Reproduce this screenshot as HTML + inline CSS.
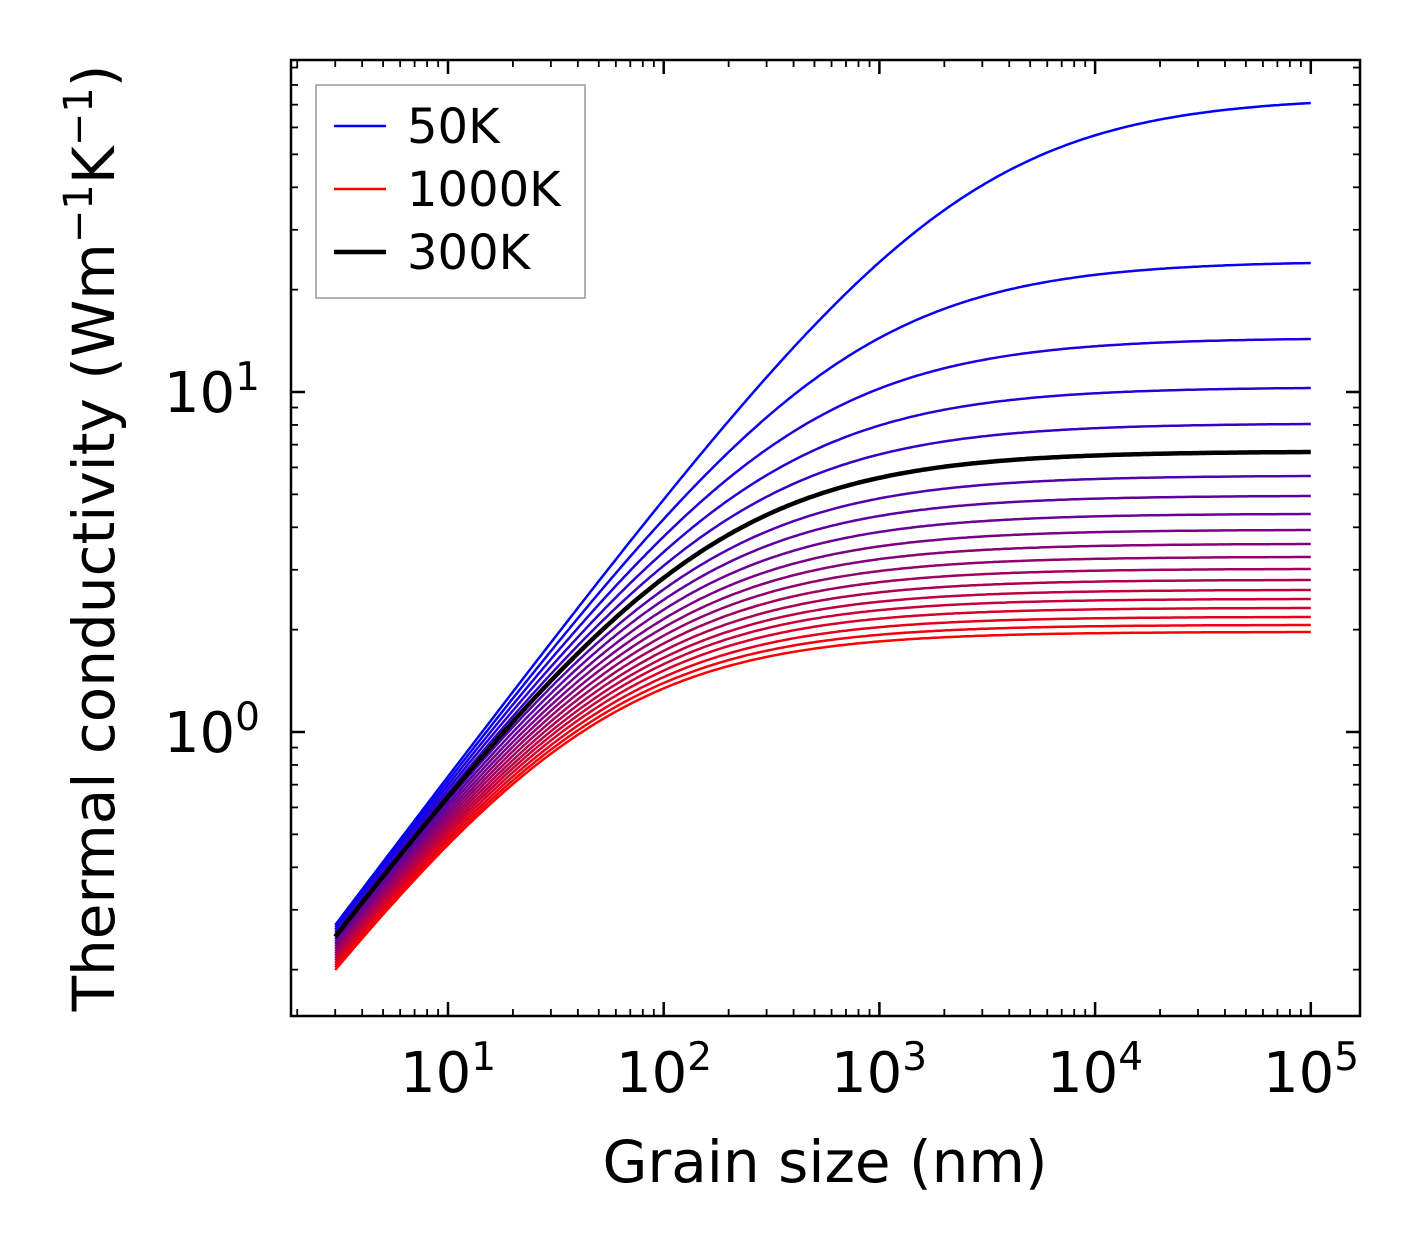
<!DOCTYPE html>
<html><head><meta charset="utf-8">
<style>
html,body{margin:0;padding:0;background:#fff;}
svg{display:block;font-family:"DejaVu Sans","Liberation Sans",sans-serif;}
</style></head>
<body>
<svg id="s" width="1421" height="1254" viewBox="0 0 1421 1254" xmlns="http://www.w3.org/2000/svg">
<defs><clipPath id="c"><rect x="291" y="60" width="1069" height="956"/></clipPath></defs>
<g id="curves" clip-path="url(#c)"></g>
<rect x="291" y="60" width="1069" height="956" fill="none" stroke="#000" stroke-width="2.5"/>
<g id="ticks" stroke="#000"></g>
<g font-size="56" fill="#000">
<text x="448" y="1092" text-anchor="middle">10<tspan dy="-22" font-size="39">1</tspan></text>
<text x="664" y="1092" text-anchor="middle">10<tspan dy="-22" font-size="39">2</tspan></text>
<text x="879" y="1092" text-anchor="middle">10<tspan dy="-22" font-size="39">3</tspan></text>
<text x="1095" y="1092" text-anchor="middle">10<tspan dy="-22" font-size="39">4</tspan></text>
<text x="1311" y="1092" text-anchor="middle">10<tspan dy="-22" font-size="39">5</tspan></text>
<text x="260" y="412" text-anchor="end">10<tspan dy="-22" font-size="39">1</tspan></text>
<text x="260" y="752" text-anchor="end">10<tspan dy="-22" font-size="39">0</tspan></text>
</g>
<g font-size="58" fill="#000">
<text x="825" y="1182" text-anchor="middle">Grain size (nm)</text>
<text transform="translate(114,538) rotate(-90)" text-anchor="middle">Thermal conductivity (Wm<tspan dy="-22" font-size="40">−1</tspan><tspan dy="22">K</tspan><tspan dy="-22" font-size="40">−1</tspan><tspan dy="22">)</tspan></text>
</g>
<rect x="316" y="85" width="269" height="213" fill="#fff" stroke="#999" stroke-width="1.5"/>
<line x1="334" y1="126" x2="386" y2="126" stroke="#00f" stroke-width="2.5"/>
<line x1="334" y1="189" x2="386" y2="189" stroke="#f00" stroke-width="2.5"/>
<line x1="334" y1="252" x2="386" y2="252" stroke="#000" stroke-width="4.5"/>
<g font-size="48" fill="#000">
<text x="407" y="143">50K</text>
<text x="407" y="206">1000K</text>
<text x="407" y="269">300K</text>
</g>
</svg>
<script>
(function(){
var NS="http://www.w3.org/2000/svg";
function X(l){return 232.3+215.7*l;}
function Y(l){return 732-340*l;}
var ends=[103,263,339,388,424,452,476,496,514,530,544,557,569,580,590,599,608,617,625,632];
var s=0.84, g=document.getElementById('curves');
var black=null;
for(var i=0;i<20;i++){
  var kE=Math.pow(10,(732-ends[i])/340);
  var y3=925+45*i/19;
  var k3=Math.pow(10,(732-y3)/340);
  var kinf=kE, Lam;
  for(var it=0;it<30;it++){
    Lam=3*Math.pow(kinf/k3-1,1/s);
    kinf=kE*(1+Math.pow(Lam/1e5,s));
  }
  var d="";
  for(var j=0;j<=300;j++){
    var lg=Math.log10(3)+(5-Math.log10(3))*j/300;
    var L=Math.pow(10,lg);
    var k=kinf/(1+Math.pow(Lam/L,s));
    d+=(j?"L":"M")+X(lg).toFixed(1)+","+Y(Math.log10(k)).toFixed(1);
  }
  var p=document.createElementNS(NS,"path");
  p.setAttribute("d",d);p.setAttribute("fill","none");
  var t=i/19;
  if(i==5){p.setAttribute("stroke","#000");p.setAttribute("stroke-width","4.5");black=p;}
  else{p.setAttribute("stroke","rgb("+Math.round(255*t)+",0,"+Math.round(255*(1-t))+")");p.setAttribute("stroke-width","2.5");}
  g.appendChild(p);
}
g.appendChild(black);
var tk=document.getElementById('ticks'),h="";
function ln(a,b,c,d,w){h+='<line x1="'+a+'" y1="'+b+'" x2="'+c+'" y2="'+d+'" stroke-width="'+w+'"/>';}
for(var e=0;e<=5;e++)for(var m=1;m<10;m++){
  var x=X(e+Math.log10(m)); if(x<292||x>1359)continue;
  var len=m==1?14:7,w=m==1?2.5:1.8;
  ln(x,1016,x,1016-len,w);ln(x,60,x,60+len,w);
}
for(var e=-1;e<=1;e++)for(var m=1;m<10;m++){
  var y=Y(e+Math.log10(m)); if(y<61||y>1015)continue;
  var len=m==1?14:7,w=m==1?2.5:1.8;
  ln(291,y,291+len,y,w);ln(1360,y,1360-len,y,w);
}
tk.innerHTML=h;
})();
</script>
</body></html>
